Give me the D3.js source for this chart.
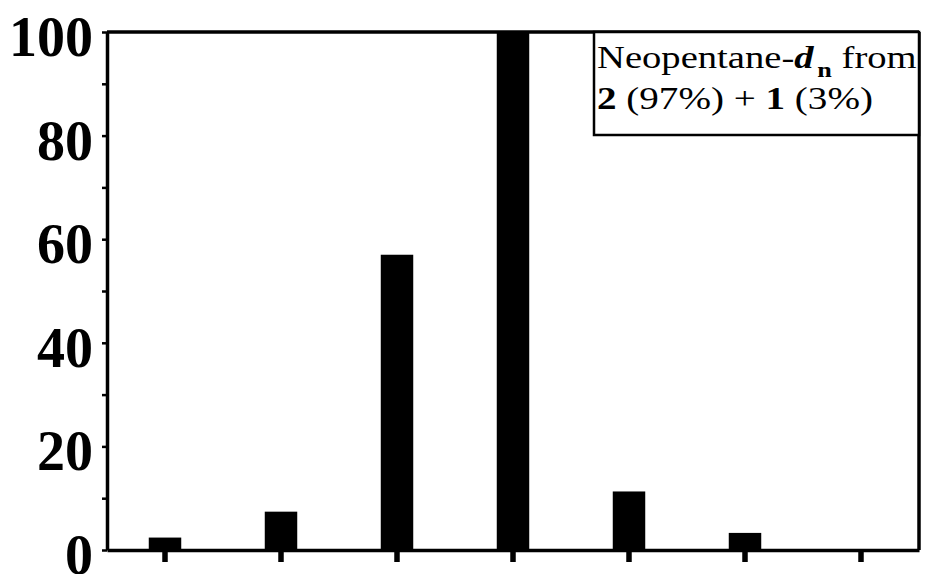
<!DOCTYPE html>
<html>
<head>
<meta charset="utf-8">
<script src="https://cdn.jsdelivr.net/npm/d3@7"></script>
<style>
  html, body { margin: 0; padding: 0; background: #fff; }
  svg { display: block; }
</style>
</head>
<body>
<svg id="chart" width="926" height="574"></svg>
<script>
// Isotopologue distribution of neopentane-d_n (relative abundance, %)
const isotopologues = ["n1", "n2", "n3", "n4", "n5", "n6", "n7"];
const abundance = [2.4, 7.4, 57, 100, 11.3, 3.3, 0];
const yTickValues = [0, 20, 40, 60, 80, 100];
const yMinorTickValues = [10, 30, 50, 70, 90];

const W = 926, H = 574;
const frame = { left: 107, right: 919, top: 32, bottom: 550 };
const serif = "'Liberation Serif', 'Times New Roman', serif";

const svg = d3.select("#chart");
svg.append("rect").attr("width", W).attr("height", H).attr("fill", "#fff");

const x = d3.scaleBand()
  .domain(isotopologues)
  .range([frame.left, frame.right])
  .paddingInner(0.72)
  .paddingOuter(0.36);

const y = d3.scaleLinear()
  .domain([0, 100])
  .range([frame.bottom, frame.top]);

// bars
svg.append("g")
  .selectAll("rect")
  .data(isotopologues.map((k, i) => ({ k, v: abundance[i] })))
  .join("rect")
  .attr("x", d => x(d.k))
  .attr("y", d => y(d.v))
  .attr("width", x.bandwidth())
  .attr("height", d => y(0) - y(d.v))
  .attr("fill", "#000");

// top and right frame lines
svg.append("line")
  .attr("x1", frame.left).attr("x2", frame.right)
  .attr("y1", y(100)).attr("y2", y(100))
  .attr("stroke", "#000").attr("stroke-width", 3.5);
svg.append("line")
  .attr("x1", frame.right).attr("x2", frame.right)
  .attr("y1", y(100)).attr("y2", y(0))
  .attr("stroke", "#000").attr("stroke-width", 3.5);

// left axis, major ticks with labels
const yAxis = svg.append("g")
  .attr("transform", `translate(${frame.left},0)`)
  .call(d3.axisLeft(y).tickValues(yTickValues).tickSize(5).tickSizeOuter(0).tickPadding(9)
    .tickFormat(d3.format("d")));
yAxis.select(".domain").attr("stroke-width", 3.5);
yAxis.selectAll(".tick line").attr("stroke-width", 2.5);
yAxis.selectAll(".tick text")
  .attr("font-family", serif)
  .attr("font-weight", "bold")
  .attr("font-size", 56)
  .attr("fill", "#000")
  .attr("dy", "0.42em");

// left axis, minor ticks
const yMinor = svg.append("g")
  .attr("transform", `translate(${frame.left},0)`)
  .call(d3.axisLeft(y).tickValues(yMinorTickValues).tickSize(5).tickFormat(""));
yMinor.select(".domain").remove();
yMinor.selectAll(".tick line").attr("stroke-width", 2.5);

// bottom axis
const xAxis = svg.append("g")
  .attr("transform", `translate(0,${frame.bottom})`)
  .call(d3.axisBottom(x).tickSize(12).tickSizeOuter(0).tickFormat(""));
xAxis.select(".domain").attr("stroke-width", 3.5);
xAxis.selectAll(".tick line").attr("stroke-width", 5.5);

// legend box
const legend = { x: 594, y: frame.top, w: frame.right - 594, h: 103 };
svg.append("rect")
  .attr("x", legend.x).attr("y", legend.y)
  .attr("width", legend.w).attr("height", legend.h)
  .attr("fill", "#fff").attr("stroke", "#000").attr("stroke-width", 2.5);

// stretch a legend line horizontally to a given width (wide-set typeface)
function fitWidth(sel, x0, target) {
  const w = sel.node().getComputedTextLength();
  sel.attr("transform", `translate(${x0},0) scale(${target / w},1) translate(${-x0},0)`);
}

const tx = legend.x + 3;
const line1 = svg.append("text")
  .attr("x", tx).attr("y", legend.y + 36)
  .attr("font-family", serif).attr("font-size", 31).attr("fill", "#000");
line1.append("tspan").text("Neopentane-");
line1.append("tspan").attr("font-style", "italic").attr("font-weight", "bold").text("d");
line1.append("tspan").attr("font-size", 21).attr("font-weight", "bold")
  .attr("dx", 3).attr("dy", 9).text("n");
line1.append("tspan").attr("dy", -9).text(" from");
fitWidth(line1, tx, 316);

const line2 = svg.append("text")
  .attr("x", tx).attr("y", legend.y + 77)
  .attr("font-family", serif).attr("font-size", 31).attr("fill", "#000");
line2.append("tspan").attr("font-weight", "bold").text("2");
line2.append("tspan").text(" (97%) + ");
line2.append("tspan").attr("font-weight", "bold").text("1");
line2.append("tspan").text(" (3%)");
fitWidth(line2, tx, 276);
</script>
</body>
</html>
